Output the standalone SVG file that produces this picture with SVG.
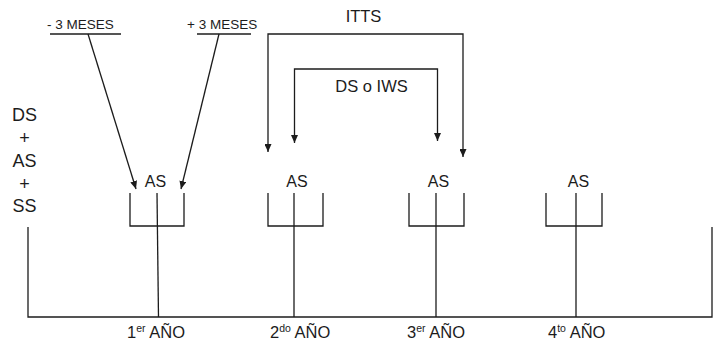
<svg xmlns="http://www.w3.org/2000/svg" width="714" height="344" viewBox="0 0 714 344">
<style>
  .ln { stroke: #1c1c1c; stroke-width: 1.3; fill: none; }
  text { font-family: "Liberation Sans", Arial, sans-serif; fill: #1c1c1c; }
  .big { font-size: 18px; text-anchor: middle; }
  .as { font-size: 16px; text-anchor: middle; }
  .yr { font-size: 16.5px; }
  .sup { font-size: 10.5px; }
  .sm { font-size: 13.5px; }
  .lab { font-size: 16.5px; text-anchor: middle; }
</style>
<defs>
  <marker id="ah" viewBox="0 0 8 7" refX="8" refY="3.5" markerWidth="8" markerHeight="7" markerUnits="userSpaceOnUse" orient="auto-start-reverse">
    <path d="M0,0 L8,3.5 L0,7 z" fill="#1c1c1c"/>
  </marker>
</defs>
<rect width="714" height="344" fill="#ffffff"/>

<g id="axis">
  <path class="ln" d="M28,227 V317 H712 V227"/>
</g>

<g id="left-label">
  <text class="big" x="24.5" y="121">DS</text>
  <text class="big" x="24.5" y="144">+</text>
  <text class="big" x="24.5" y="167">AS</text>
  <text class="big" x="24.5" y="190">+</text>
  <text class="big" x="24.5" y="212">SS</text>
</g>

<g id="year1">
  <text class="as" x="155.5" y="187">AS</text>
  <path class="ln" d="M130,193 V226 H184 V193"/>
  <path class="ln" d="M157,193 L158.5,317"/>
  <text class="yr" x="127" y="338">1<tspan class="sup" dy="-6">er</tspan><tspan dy="6"> AÑO</tspan></text>
</g>

<g id="year2">
  <text class="as" x="297" y="187">AS</text>
  <path class="ln" d="M268,193 V226 H323 V193"/>
  <path class="ln" d="M294,193 V317"/>
  <text class="yr" x="270" y="338">2<tspan class="sup" dy="-6">do</tspan><tspan dy="6"> AÑO</tspan></text>
</g>

<g id="year3">
  <text class="as" x="438.5" y="187">AS</text>
  <path class="ln" d="M409,193 V226 H464 V193"/>
  <path class="ln" d="M436,193 V317"/>
  <text class="yr" x="407" y="338">3<tspan class="sup" dy="-6">er</tspan><tspan dy="6"> AÑO</tspan></text>
</g>

<g id="year4">
  <text class="as" x="578.5" y="187">AS</text>
  <path class="ln" d="M546,193 V226 H602 V193"/>
  <path class="ln" d="M576,193 V317"/>
  <text class="yr" x="548" y="338">4<tspan class="sup" dy="-6">to</tspan><tspan dy="6"> AÑO</tspan></text>
</g>

<g id="minus3">
  <text class="sm" x="47" y="29">- 3 MESES</text>
  <line class="ln" x1="50" y1="34" x2="121" y2="34"/>
</g>

<g id="plus3">
  <text class="sm" x="187" y="29">+ 3 MESES</text>
  <line class="ln" x1="197" y1="34" x2="251" y2="34"/>
</g>

<g id="label-itts">
  <text class="lab" x="363.5" y="22">ITTS</text>
</g>

<g id="label-ds-iws">
  <text class="lab" x="371.5" y="92">DS o IWS</text>
</g>

<g id="connectors">
  <line class="ln" x1="88" y1="34" x2="136" y2="189" marker-end="url(#ah)"/>
  <line class="ln" x1="219" y1="34" x2="181" y2="189" marker-end="url(#ah)"/>
  <path class="ln" d="M268,152 V34 H463 V157" marker-start="url(#ah)" marker-end="url(#ah)"/>
  <path class="ln" d="M294.5,143 V69 H437.5 V141" marker-start="url(#ah)" marker-end="url(#ah)"/>
</g>
</svg>
